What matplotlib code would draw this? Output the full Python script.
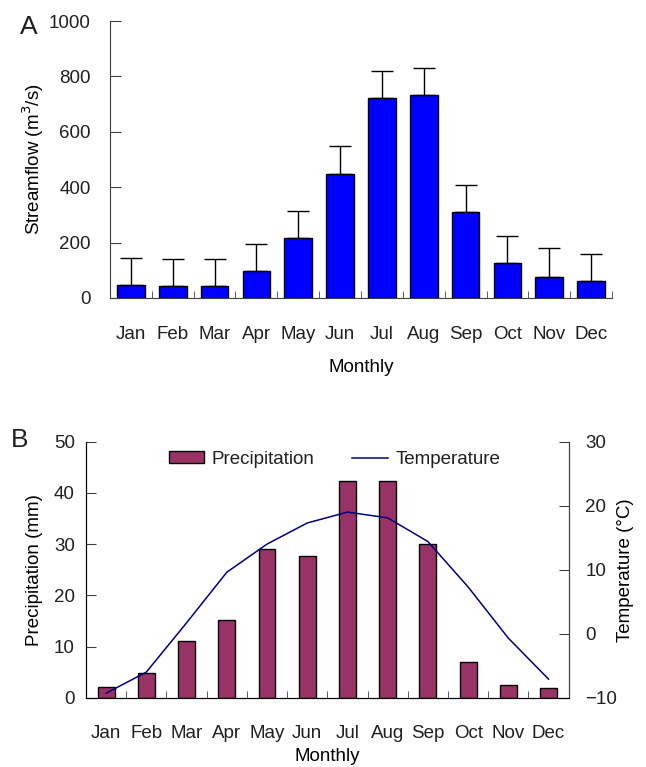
import numpy as np
import matplotlib
matplotlib.use('Agg')
import matplotlib.pyplot as plt

plt.rcParams['font.family'] = ['Liberation Sans', 'DejaVu Sans']
plt.rcParams['font.size'] = 13.5
plt.rcParams['text.color'] = '#202020'
plt.rcParams['xtick.color'] = '#202020'
plt.rcParams['ytick.color'] = '#202020'

###### dados ######
meses = ['Jan', 'Feb', 'Mar', 'Apr', 'May', 'Jun', 'Jul', 'Aug', 'Sep', 'Oct', 'Nov', 'Dec']
vazao = [47, 43, 43, 97, 215, 449, 722, 732, 310, 126, 77, 61]
vazao_erro = [98, 99, 99, 99, 100, 100, 98, 98, 99, 99, 103, 99]
precip = [2.1, 4.8, 11.0, 15.1, 29.0, 27.7, 42.4, 42.4, 30.1, 7.0, 2.4, 1.9]
temp = [-9.3, -6.0, 1.7, 9.6, 14.0, 17.3, 19.0, 18.1, 14.4, 7.3, -0.7, -7.1]

x = np.arange(len(meses))
cor_eixo = '#404040'

def estilo_x(ax, pad):
    ax.set_xlim(-0.5, len(meses) - 0.5)
    ax.set_xticks(x)
    ax.set_xticklabels(meses)
    ax.set_xticks(np.arange(0.5, len(meses)), minor=True)
    ax.tick_params(axis='x', which='major', length=0, pad=pad)
    ax.tick_params(axis='x', which='minor', direction='in', length=5, color=cor_eixo)

fig = plt.figure(figsize=(6.46, 7.67), dpi=100)

###### painel A ######
ax1 = fig.add_axes([110/646, 1 - 298/767, 502/646, 277/767])
ax1.bar(x, vazao, width=0.66, color='#0000ff', edgecolor='black', linewidth=1,
        yerr=[np.zeros(len(meses)), vazao_erro], capsize=8,
        error_kw=dict(ecolor='black', elinewidth=1, capthick=1))
ax1.set_ylim(0, 1000)
ax1.set_yticks(range(0, 1001, 200))
ax1.tick_params(axis='y', direction='in', length=8, pad=14, color=cor_eixo)
estilo_x(ax1, 20)
for s in ['top', 'right']:
    ax1.spines[s].set_visible(False)
for s in ['left', 'bottom']:
    ax1.spines[s].set_color(cor_eixo)
ax1.set_ylabel('Streamflow (m$^3$/s)', labelpad=2)
ax1.set_xlabel('Monthly', labelpad=12)
fig.text(20/646, 1 - 27/767, 'A', fontsize=19, ha='left', va='center')

###### painel B ######
ax2 = fig.add_axes([86/646, 1 - 697.7/767, 482.7/646, 256/767])
b = ax2.bar(x, precip, width=0.42, color='#993366', edgecolor='black', linewidth=1, label='Precipitation')
ax2.set_ylim(0, 50)
ax2.set_yticks(range(0, 51, 10))
ax2.tick_params(axis='y', direction='in', length=7, pad=8, color=cor_eixo)
estilo_x(ax2, 20)
ax2.spines['top'].set_visible(False)
for s in ['left', 'bottom', 'right']:
    ax2.spines[s].set_color(cor_eixo)
ax2.set_ylabel('Precipitation (mm)', labelpad=8)
ax2.set_xlabel('Monthly', labelpad=4)

ax3 = ax2.twinx()
l, = ax3.plot(x, temp, color='#000080', linewidth=1.1, label='Temperature')
ax3.set_ylim(-10, 30)
ax3.set_yticks(range(-10, 31, 10))
ax3.tick_params(axis='y', direction='in', length=7, pad=12, color=cor_eixo)
ax3.spines['top'].set_visible(False)
ax3.spines['right'].set_color(cor_eixo)
ax3.set_ylabel('Temperature (°C)', labelpad=0)

ax2.legend([b, l], ['Precipitation', 'Temperature'], loc='upper center', ncol=2,
           frameon=False, bbox_to_anchor=(0.515, 1.03), handlelength=1.9,
           handleheight=0.6, handletextpad=0.4, columnspacing=2.0)
fig.text(11/646, 1 - 440/767, 'B', fontsize=19, ha='left', va='center')

fig.savefig('out.png', dpi=100)
